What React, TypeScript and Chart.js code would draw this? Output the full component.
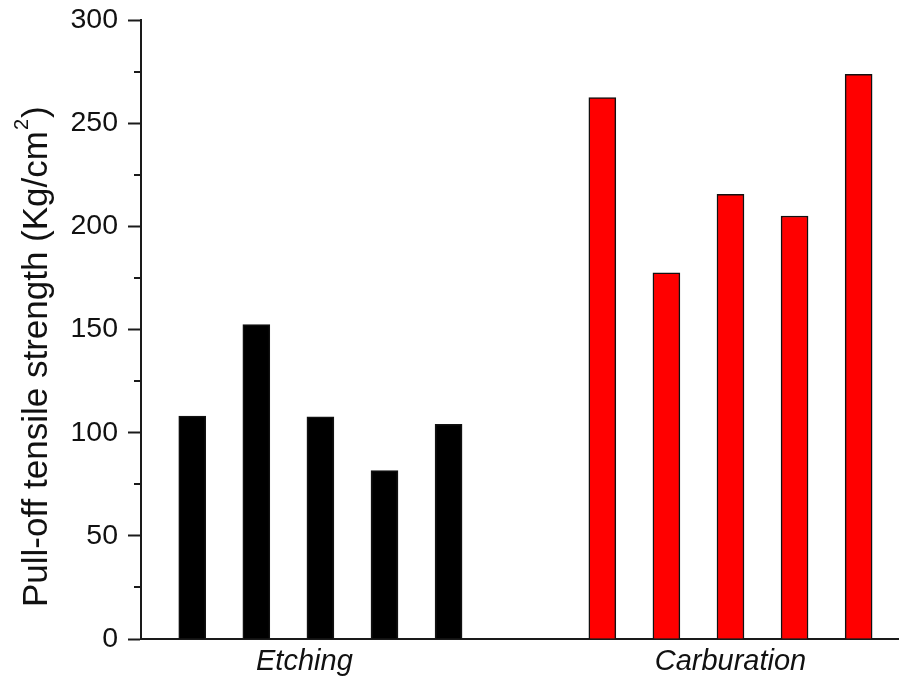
import React, { useEffect, useRef } from "react";
import { Chart, registerables } from "chart.js";

Chart.register(...registerables);

// Pull-off tensile strength per sample (Kg/cm²)
const etchingValues = [108.0, 152.4, 107.7, 81.6, 104.1];
const carburationValues = [262.4, 177.5, 215.5, 205.0, 273.7];

// Sample positions along the x axis
const etchingPositions = [1, 2, 3, 4, 5];
const carburationPositions = [7.4, 8.4, 9.4, 10.4, 11.4];

// Group captions and where they sit on the x axis
const groupLabels = ["Etching", "Carburation"];
const groupLabelPositions = [2.75, 9.4];

const yTicks = { min: 0, max: 300, step: 50 };
const yTitleMain = "Pull-off tensile strength (Kg/cm";
const yTitleSup = "2";
const yTitleEnd = ")";

const FONT = "'Liberation Sans', Arial, sans-serif";
const AXIS_COLOR = "#1a1a1a";

// Short outward minor ticks halfway between the labelled ticks
const minorTicksPlugin = {
  id: "minorTicks",
  afterDraw(chart: any) {
    const y = chart.scales.y;
    const ctx = chart.ctx;
    const ticks = y.ticks;
    const left = chart.chartArea.left;
    ctx.save();
    ctx.strokeStyle = AXIS_COLOR;
    ctx.lineWidth = 2;
    for (let i = 0; i < ticks.length - 1; i++) {
      const mid = (ticks[i].value + ticks[i + 1].value) / 2;
      const py = Math.round(y.getPixelForValue(mid));
      ctx.beginPath();
      ctx.moveTo(left - 7, py);
      ctx.lineTo(left, py);
      ctx.stroke();
    }
    ctx.restore();
  },
};

// Rotated y-axis title with a true superscript
const yTitlePlugin = {
  id: "yTitle",
  afterDraw(chart: any) {
    const ctx = chart.ctx;
    const area = chart.chartArea;
    const y = chart.scales.y;
    ctx.save();
    ctx.translate(y.left + 46.5, area.bottom - 32);
    ctx.rotate(-Math.PI / 2);
    ctx.fillStyle = "#111";
    ctx.textBaseline = "alphabetic";
    ctx.textAlign = "left";
    ctx.font = `35px ${FONT}`;
    ctx.fillText(yTitleMain, 0, 0);
    let x = ctx.measureText(yTitleMain).width;
    ctx.font = `20px ${FONT}`;
    ctx.fillText(yTitleSup, x + 1, -19);
    x += ctx.measureText(yTitleSup).width + 2;
    ctx.font = `35px ${FONT}`;
    ctx.fillText(yTitleEnd, x, 0);
    ctx.restore();
  },
};

export default function App() {
  const canvasRef = useRef<HTMLCanvasElement | null>(null);

  useEffect(() => {
    if (!canvasRef.current) return;
    const chart = new Chart(canvasRef.current, {
      type: "bar",
      data: {
        datasets: [
          {
            label: "Etching",
            data: etchingPositions.map((x, i) => ({ x, y: etchingValues[i] })),
            backgroundColor: "#000000",
            borderColor: "#111111",
            borderWidth: 1.5,
          },
          {
            label: "Carburation",
            data: carburationPositions.map((x, i) => ({ x, y: carburationValues[i] })),
            backgroundColor: "#ff0000",
            borderColor: "#111111",
            borderWidth: 1.5,
          },
        ],
      },
      options: {
        animation: false,
        responsive: true,
        maintainAspectRatio: false,
        datasets: { bar: { grouped: false, barThickness: 27 } } as any,
        layout: { padding: { top: 20, right: 0, bottom: 0, left: 0 } },
        plugins: {
          legend: { display: false },
          tooltip: { enabled: false },
        },
        scales: {
          x: {
            type: "linear",
            min: 0.2,
            max: 12.03,
            offset: false,
            grid: { display: false, drawTicks: false },
            border: { display: true, color: AXIS_COLOR, width: 2 },
            afterBuildTicks: (scale: any) => {
              scale.ticks = groupLabelPositions.map((v) => ({ value: v }));
            },
            afterFit: (scale: any) => {
              scale.height = 43;
              scale.paddingLeft = 0;
              scale.paddingRight = 0;
            },
            ticks: {
              autoSkip: false,
              maxRotation: 0,
              padding: 6,
              color: "#111",
              font: { family: FONT, size: 29, style: "italic" },
              callback: (_v: any, i: number) => groupLabels[i],
            },
          },
          y: {
            min: yTicks.min,
            max: yTicks.max,
            grid: {
              display: true,
              drawOnChartArea: false,
              drawTicks: true,
              tickLength: 13,
              tickWidth: 2,
              tickColor: AXIS_COLOR,
            },
            border: { display: true, color: AXIS_COLOR, width: 2 },
            afterFit: (scale: any) => {
              scale.width = 141;
              scale.paddingTop = 0;
              scale.paddingBottom = 0;
            },
            ticks: {
              stepSize: yTicks.step,
              padding: 10,
              color: "#111",
              font: { family: FONT, size: 28.5 },
            },
          },
        },
      },
      plugins: [minorTicksPlugin, yTitlePlugin],
    });
    return () => chart.destroy();
  }, []);

  return (
    <div style={{ position: "fixed", left: 0, top: 0, width: 899, height: 682, background: "#fff" }}>
      <canvas ref={canvasRef} />
    </div>
  );
}
